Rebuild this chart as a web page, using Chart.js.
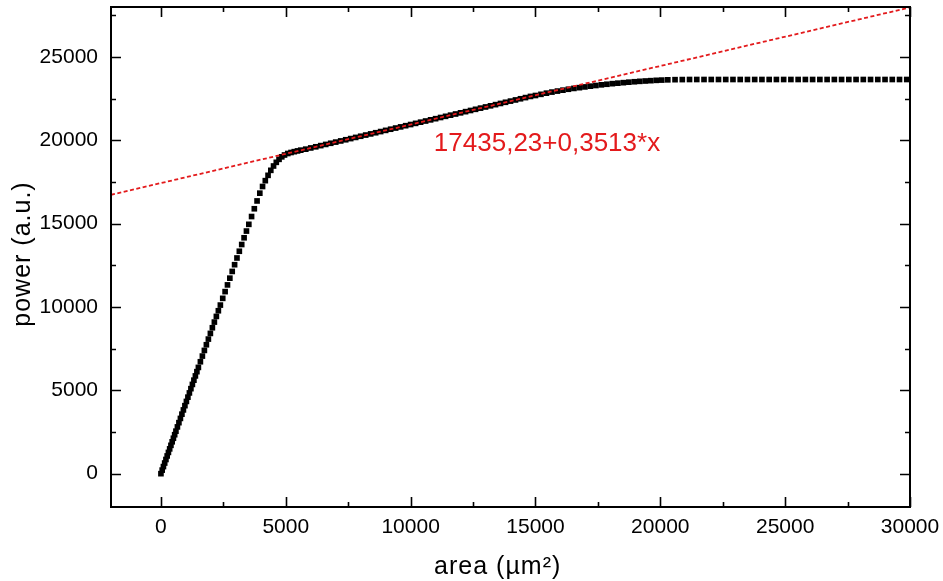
<!DOCTYPE html>
<html>
<head>
<meta charset="utf-8">
<script src="https://cdn.jsdelivr.net/npm/chart.js@4"></script>
<style>
  html, body { margin: 0; padding: 0; background: #fff; }
  #wrap { width: 943px; height: 581px; position: relative; }
</style>
</head>
<body>
<div id="wrap"><canvas id="c" width="943" height="581"></canvas></div>
<script>
// ---- data ----
const areaValues = [
  0,50,100,150,200,250,300,350,400,450,500,550,600,
  660,720,780,840,900,960,1020,1080,1140,1200,1260,1320,1380,1440,1500,
  1580,1660,1740,1820,1900,1980,2060,2140,2220,2300,2380,
  2475,2570,2665,2760,2855,2950,3045,3140,3235,3330,3425,3520,
  3630,3740,3850,3960,4070,4180,4290,4400,4510,4620,4730,4840,4950,
  5080,5210,5340,5470,5600,
  5800,6000,6200,6400,6600,6800,7000,7200,7400,7600,7800,8000,8200,8400,8600,8800,
  9000,9200,9400,9600,9800,10000,10200,10400,10600,10800,11000,11200,11400,11600,11800,
  12000,12200,12400,12600,12800,13000,13200,13400,13600,13800,14000,14200,14400,14600,14800,15000,
  15220,15440,15660,15880,16100,16320,16540,16760,16980,17200,17420,17640,17860,18080,18300,
  18520,18740,18960,19180,19400,19620,19840,20060,
  20300,20590,20880,21170,21460,21750,22040,22330,22620,22910,23200,23490,23780,24070,24360,
  24650,24940,25230,25520,25810,26100,26390,26680,26970,27260,27550,27840,28130,28420,28710,
  29000,29290,29580,29870
];
const powerValues = [
  0,213,425,638,850,1063,1275,1488,1700,1913,2125,2338,2550,
  2805,3060,3315,3570,3825,4080,4335,4590,4845,5100,5355,5610,5865,6120,6375,
  6715,7055,7395,7735,8075,8415,8755,9095,9435,9775,10115,
  10519,10923,11326,11730,12134,12538,12941,13345,13749,14153,14556,14960,
  15428,15895,16363,16830,17230,17580,17900,18200,18460,18680,18860,19010,19120,
  19210,19270,19320,19365,19410,
  19470,19543,19613,19683,19754,19824,19894,19964,20035,20105,20175,20245,20316,20386,20456,20526,
  20597,20667,20737,20807,20878,20948,21018,21089,21159,21229,21299,21370,21440,21510,21580,
  21651,21721,21791,21861,21932,22002,22072,22142,22213,22283,22353,22423,22494,22564,22634,22690,
  22760,22830,22895,22955,23010,23065,23115,23160,23205,23250,23290,23330,23365,23400,23430,
  23460,23490,23515,23540,23560,23580,23600,23615,
  23630,23640,23645,23650,23650,23650,23650,23650,23650,23650,23650,23650,23650,23650,23650,
  23650,23650,23650,23650,23650,23650,23650,23650,23650,23650,23650,23650,23650,23650,23650,
  23650,23650,23650,23650
];
const fitX = [-2000, 30000];
const fitY = [16732.6, 27974.2];
const fitLabel = '17435,23+0,3513*x';
const fitLabelPos = [15462, 19800];
const xTicks = [0, 5000, 10000, 15000, 20000, 25000, 30000];
const xMinorTicks = [2500, 7500, 12500, 17500, 22500, 27500];
const yTicks = [0, 5000, 10000, 15000, 20000, 25000];
const yMinorTicks = [2500, 7500, 12500, 17500, 22500, 27500];
const xRange = [-2000, 30000];
const yRange = [-2000, 28000];
const xTitle = 'area (\u00B5m\u00B2)';
const yTitle = 'power (a.u.)';

const FONT = "Arial, 'Liberation Sans', sans-serif";
const RED = '#e31a1c';

const framePlugin = {
  id: 'frame',
  afterDraw(chart) {
    const ctx = chart.ctx;
    const a = chart.chartArea;
    const xs = chart.scales.x, ys = chart.scales.y;
    ctx.save();
    ctx.strokeStyle = '#000';
    ctx.lineWidth = 2;
    ctx.strokeRect(a.left, a.top, a.right - a.left, a.bottom - a.top);
    ctx.lineWidth = 1.6;
    const drawX = (vals, len) => vals.forEach(v => {
      const p = Math.round(xs.getPixelForValue(v)) + 0.5;
      ctx.beginPath();
      ctx.moveTo(p, a.bottom); ctx.lineTo(p, a.bottom - len);
      ctx.moveTo(p, a.top); ctx.lineTo(p, a.top + len);
      ctx.stroke();
    });
    const drawY = (vals, len) => vals.forEach(v => {
      const p = Math.round(ys.getPixelForValue(v)) + 0.5;
      ctx.beginPath();
      ctx.moveTo(a.left, p); ctx.lineTo(a.left + len, p);
      ctx.moveTo(a.right, p); ctx.lineTo(a.right - len, p);
      ctx.stroke();
    });
    drawX(xTicks, 10); drawX(xMinorTicks, 5);
    drawY(yTicks, 10); drawY(yMinorTicks, 5);
    // fit label
    ctx.fillStyle = RED;
    ctx.font = '26px ' + FONT;
    ctx.textAlign = 'center';
    ctx.textBaseline = 'middle';
    ctx.fillText(fitLabel, xs.getPixelForValue(fitLabelPos[0]), ys.getPixelForValue(fitLabelPos[1]));
    // axis titles
    ctx.fillStyle = '#000';
    ctx.font = '25px ' + FONT;
    ctx.textAlign = 'center';
    ctx.textBaseline = 'middle';
    try { ctx.letterSpacing = '1px'; } catch (e) {}
    ctx.fillText(xTitle, a.left + (a.right - a.left) * 0.484, 567);
    ctx.translate(23, a.top + (a.bottom - a.top) * 0.494);
    ctx.rotate(-Math.PI / 2);
    ctx.fillText(yTitle, 0, 0);
    ctx.restore();
  }
};

new Chart(document.getElementById('c'), {
  type: 'scatter',
  data: {
    datasets: [
      {
        label: 'fit',
        data: fitX.map((x, i) => ({ x, y: fitY[i] })),
        showLine: true,
        borderColor: RED,
        borderWidth: 1.8,
        borderDash: [4, 2.5],
        pointRadius: 0,
        fill: false
      },
      {
        label: 'power',
        data: areaValues.map((x, i) => ({ x, y: powerValues[i] })),
        pointStyle: 'rect',
        pointRadius: 4,
        backgroundColor: '#000',
        borderWidth: 0,
        showLine: false
      }
    ]
  },
  options: {
    responsive: false,
    animation: false,
    devicePixelRatio: 1,
    layout: { padding: { left: 0, right: 33, top: 7, bottom: 0 } },
    plugins: { legend: { display: false }, tooltip: { enabled: false } },
    scales: {
      x: {
        type: 'linear',
        min: xRange[0], max: xRange[1],
        grid: { display: false, drawTicks: false },
        border: { display: false },
        afterBuildTicks: s => { s.ticks = xTicks.map(v => ({ value: v })); },
        afterFit: s => { s.height = 74; s.paddingLeft = 0; s.paddingRight = 0; s.paddingTop = 0; s.paddingBottom = 0; },
        ticks: { color: '#000', font: { family: FONT, size: 21 }, padding: 8, maxRotation: 0,
                 callback: v => String(v) },
        title: { display: false }
      },
      y: {
        type: 'linear',
        min: yRange[0], max: yRange[1],
        grid: { display: false, drawTicks: false },
        border: { display: false },
        afterBuildTicks: s => { s.ticks = yTicks.map(v => ({ value: v })); },
        afterFit: s => { s.width = 111; s.paddingLeft = 0; s.paddingRight = 0; s.paddingTop = 0; s.paddingBottom = 0; },
        ticks: { color: '#000', font: { family: FONT, size: 21 }, padding: 13,
                 callback: v => String(v) },
        title: { display: false }
      }
    }
  },
  plugins: [framePlugin]
});
</script>
</body>
</html>
